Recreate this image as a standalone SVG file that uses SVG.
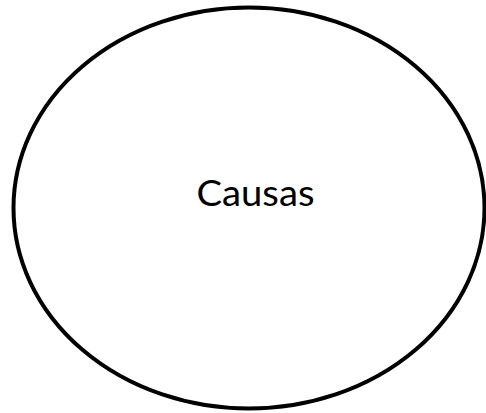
<svg xmlns="http://www.w3.org/2000/svg" width="486" height="413" viewBox="0 0 486 413">
<style>
.shape{fill:#fff;stroke:#000;stroke-width:4}
.lbl{font-family:Lato,"Liberation Sans",sans-serif;font-size:37px;fill:#000;text-anchor:middle}
</style>
<rect width="486" height="413" fill="#fff"/>
<g id="causas">
<ellipse class="shape" cx="249" cy="208" rx="235.5" ry="200.5"/>
<text class="lbl" x="255.5" y="206" textLength="118" lengthAdjust="spacingAndGlyphs">Causas</text>
</g>
<g id="connectors"/>
</svg>
